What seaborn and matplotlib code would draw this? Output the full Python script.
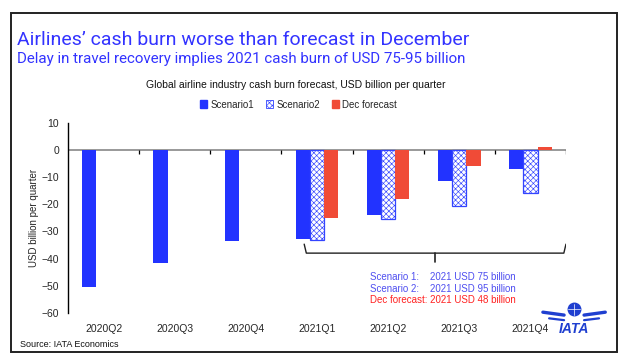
import numpy as np
import pandas as pd
import matplotlib
matplotlib.use("Agg")
import matplotlib.pyplot as plt
import matplotlib.patches as mpatches
import seaborn as sns

quarters = ["2020Q2", "2020Q3", "2020Q4", "2021Q1", "2021Q2", "2021Q3", "2021Q4"]
scenario1 = [-50.5, -41.8, -33.7, -32.7, -24.1, -11.3, -7.0]
scenario2 = [np.nan, np.nan, np.nan, -33.2, -25.6, -20.8, -15.7]
dec_forecast = [np.nan, np.nan, np.nan, -25.2, -18.1, -6.0, 0.9]
series_names = ["Scenario1", "Scenario2", "Dec forecast"]

BLUE = "#2233FF"
RED = "#F04B37"
TXT_BLUE = "#3333FF"

df = pd.DataFrame({
    "quarter": quarters * 3,
    "series": np.repeat(series_names, len(quarters)),
    "value": scenario1 + scenario2 + dec_forecast,
})

sns.set_style("white")
plt.rcParams["font.family"] = ["Liberation Sans", "DejaVu Sans"]
plt.rcParams["hatch.linewidth"] = 0.45

fig = plt.figure(figsize=(6.24, 3.63), dpi=100)
ax = fig.add_axes([0.109, 0.138, 0.798, 0.524])

sns.barplot(
    data=df, x="quarter", y="value", hue="series", order=quarters,
    hue_order=series_names, palette=[BLUE, "white", RED], width=0.6,
    linewidth=0, saturation=1, legend=False, ax=ax,
)

# hatched scenario 2 bars
for bar in ax.containers[1]:
    bar.set_hatch("xxxxxx")
    bar.set_edgecolor("#3344FF")
    bar.set_linewidth(0.9)

ax.set_ylim(-60, 10)
ax.set_xlim(-0.5, 6.5)
ax.set_yticks(range(-60, 11, 10))
ax.set_xlabel("")
ax.set_ylabel("USD billion per quarter", fontsize=7, labelpad=2)
for s in ["top", "right", "bottom"]:
    ax.spines[s].set_visible(False)
ax.spines["left"].set_color("black")
ax.spines["left"].set_linewidth(1)
ax.tick_params(axis="y", direction="out", length=3, width=1, labelsize=7.5, color="black")
ax.tick_params(axis="x", length=0, pad=8, labelsize=7.5)

# zero line with boundary ticks
ax.axhline(0, color="#888888", lw=1.2, zorder=0)
ax.vlines(np.arange(0.5, 7.0, 1.0), -1.4, 0, color="black", lw=0.9)

# bracket over 2021 quarters
ax.plot([2.82, 2.85, 6.47, 6.5], [-34.7, -38.0, -38.0, -34.7], color="#222222", lw=1)
ax.plot([4.66, 4.66], [-38.0, -41.3], color="#222222", lw=1.2)

ax.text(3.75, -46.8, "Scenario 1:    2021 USD 75 billion", color="#4F4FF0", fontsize=7, va="center")
ax.text(3.75, -51.2, "Scenario 2:    2021 USD 95 billion", color="#4F4FF0", fontsize=7, va="center")
ax.text(3.75, -55.4, "Dec forecast: 2021 USD 48 billion", color="#FF2222", fontsize=7, va="center")

# legend
handles = [
    mpatches.Patch(facecolor=BLUE, edgecolor=BLUE),
    mpatches.Patch(facecolor="white", edgecolor="#3344FF", hatch="xxxxxx", lw=0.6),
    mpatches.Patch(facecolor=RED, edgecolor=RED),
]
fig.legend(handles, series_names, loc="center", bbox_to_anchor=(0.478, 0.712), ncol=3,
           frameon=False, fontsize=7, handlelength=0.8, handleheight=0.8,
           handletextpad=0.3, columnspacing=1.2)

# titles
fig.text(0.027, 0.876, "Airlines\u2019 cash burn worse than forecast in December",
         color=TXT_BLUE, fontsize=14, family=["Roboto", "DejaVu Sans"])
fig.text(0.027, 0.826, "Delay in travel recovery implies 2021 cash burn of USD 75-95 billion",
         color=TXT_BLUE, fontsize=10.9, family=["Roboto", "DejaVu Sans"])
fig.text(0.474, 0.766, "Global airline industry cash burn forecast, USD billion per quarter",
         ha="center", va="center", fontsize=7.5, color="#111111")
fig.text(0.032, 0.05, "Source: IATA Economics", fontsize=6.5, color="#111111", va="center")

# IATA mark
logo_col = "#1F3FD0"
fig.text(0.92, 0.093, "IATA", fontsize=10, fontweight="bold", fontstyle="italic",
         color=logo_col, ha="center", va="center")
fig.lines.append(plt.Line2D([0.92], [0.148], transform=fig.transFigure, marker="o",
                            markersize=9, color=logo_col, markeredgecolor=logo_col))
fig.lines.append(plt.Line2D([0.911, 0.929], [0.148, 0.148], transform=fig.transFigure,
                            color="white", lw=0.5))
fig.lines.append(plt.Line2D([0.92, 0.92], [0.133, 0.163], transform=fig.transFigure,
                            color="white", lw=0.5))
for sgn in (-1, 1):
    fig.lines.append(plt.Line2D(0.92 + sgn * np.array([0.016, 0.05]), [0.132, 0.14],
                                transform=fig.transFigure, color=logo_col, lw=2.4))
    fig.lines.append(plt.Line2D(0.92 + sgn * np.array([0.016, 0.04]), [0.118, 0.123],
                                transform=fig.transFigure, color=logo_col, lw=1.6))

# outer frame
fig.patches.append(mpatches.Rectangle((0.017, 0.03), 0.971, 0.934, transform=fig.transFigure,
                                      fill=False, edgecolor="#222222", lw=1.4))

fig.savefig("out.png", dpi=100)
